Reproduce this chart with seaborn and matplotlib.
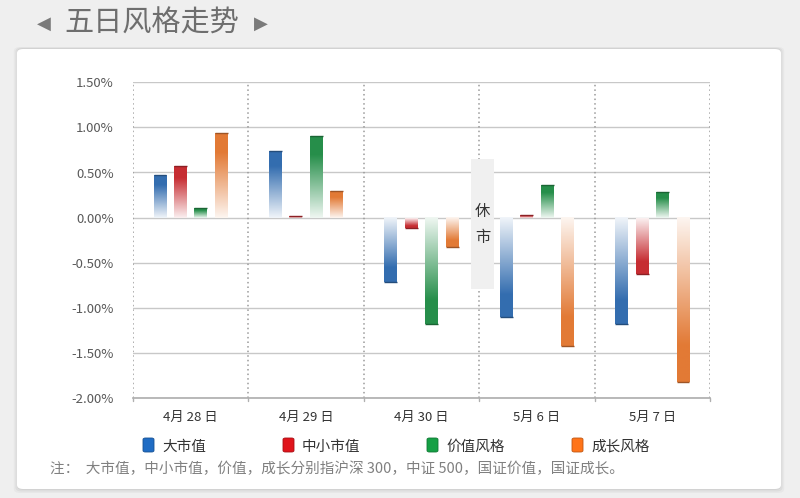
import numpy as np
import pandas as pd
import matplotlib
matplotlib.use("Agg")
import matplotlib.pyplot as plt
from matplotlib.patches import FancyBboxPatch, Rectangle
from matplotlib.colors import to_rgb
import seaborn as sns

dates = ["4月 28 日", "4月 29 日", "4月 30 日", "5月 6 日", "5月 7 日"]
styles = ["大市值", "中小市值", "价值风格", "成长风格"]
big_cap = [0.47, 0.74, -0.71, -1.10, -1.18]
small_cap = [0.57, 0.02, -0.11, 0.03, -0.62]
value_style = [0.11, 0.90, -1.18, 0.36, 0.28]
growth_style = [0.94, 0.29, -0.33, -1.42, -1.82]
colors = ["#1f6cc4", "#e0141b", "#15a045", "#ff7419"]
note = "注：  大市值，中小市值，价值，成长分别指沪深 300，中证 500，国证价值，国证成长。"

sns.set_theme(style="white")
plt.rcParams["font.family"] = ["Noto Sans CJK SC", "DejaVu Sans"]

df = pd.DataFrame({
    "date": dates * 4,
    "style": np.repeat(styles, len(dates)),
    "value": big_cap + small_cap + value_style + growth_style,
})

fig = plt.figure(figsize=(8, 4.98), dpi=100)
fig.patch.set_facecolor("#efefef")

# card with soft shadow
for i, a in enumerate([0.05, 0.04, 0.03]):
    fig.patches.append(FancyBboxPatch((17 / 800 - 0.002 * i, 8 / 498 - 0.003 * i),
                                      764 / 800 + 0.004 * i, 442 / 498 + 0.004 * i,
                                      boxstyle="round,pad=0,rounding_size=0.008",
                                      transform=fig.transFigure, facecolor="black",
                                      alpha=a, edgecolor="none", zorder=-3))
fig.patches.append(FancyBboxPatch((17 / 800, 9 / 498), 764 / 800, 440 / 498,
                                  boxstyle="round,pad=0,rounding_size=0.008",
                                  transform=fig.transFigure, facecolor="white",
                                  edgecolor="none", zorder=-2))

ax = fig.add_axes([133 / 800, 1 - 398 / 498, 577 / 800, 315.7 / 498])
ax.set_zorder(1)
ax.set_facecolor("none")
sns.barplot(data=df, x="date", y="value", hue="style", palette=colors,
            width=0.71, gap=0.37, legend=False, ax=ax, zorder=3)

# gradient fill on each bar: pale at zero, full colour at the tip
for patch in list(ax.patches):
    x0 = patch.get_x()
    w = patch.get_width()
    h = patch.get_height()
    if np.isnan(h) or w == 0:
        continue
    base = np.array(to_rgb(patch.get_facecolor()))
    t = np.linspace(0, 1, 200)
    s = np.clip(0.07 + 1.2 * t, 0, 1)
    if h < 0:
        s = s[::-1]
    img = (1 - s)[:, None] * np.ones(3) + s[:, None] * base
    img = img[:, None, :]
    lo, hi = min(0, h), max(0, h)
    ax.imshow(img, extent=[x0, x0 + w, lo, hi], origin="lower", aspect="auto",
              zorder=3, interpolation="bilinear")
    ax.plot([x0, x0 + w], [h, h], color=base * 0.7, lw=1.0, zorder=4,
            solid_capstyle="butt")
    patch.set_visible(False)

ax.set_xlim(-0.5, 4.5)
ax.set_ylim(-2.0, 1.5)

ax.set_yticks(np.arange(-2.0, 1.51, 0.5))
ax.set_yticklabels([f"{v:.2f}%" for v in np.arange(-2.0, 1.51, 0.5)],
                   fontsize=9.5, color="#595959")
ax.yaxis.grid(True, color="#c8c8c8", lw=1.0, zorder=1)
ax.set_axisbelow(True)
ax.set_xticks(range(len(dates)))
ax.set_xticklabels(dates, fontsize=9.5, color="#333333")
ax.tick_params(axis="x", length=0, pad=9)
ax.tick_params(axis="y", length=0, pad=14)
ax.set_xlabel("")
ax.set_ylabel("")
for side in ["top", "right", "left"]:
    ax.spines[side].set_visible(False)
ax.spines["bottom"].set_color("#b0b0b0")
ax.spines["bottom"].set_zorder(2)

for xs in np.arange(-0.5, 4.6, 1.0):
    ax.axvline(xs, color="#9a9a9a", lw=1.1, ls=(0, (1, 2)), zorder=2)
    ax.plot([xs, xs], [-2.0, -2.03], color="#b0b0b0", lw=1, clip_on=False)

# market closed box
ax.add_patch(Rectangle((2.43, -0.79), 0.2, 1.44, facecolor="#f0f0f0",
                       edgecolor="none", zorder=5))
ax.text(2.53, 0.07, "休", ha="center", va="center", fontsize=11, color="#333333", zorder=6)
ax.text(2.53, -0.22, "市", ha="center", va="center", fontsize=11, color="#333333", zorder=6)

# title
fig.text(37 / 800, 1 - 24 / 498, "◀", fontsize=13, color="#7a7a7a", va="center",
         family=["DejaVu Sans"])
fig.text(64 / 800, 1 - 24 / 498, "五日风格走势", fontsize=21, color="#6e6e6e", va="center")
fig.text(254 / 800, 1 - 24 / 498, "▶", fontsize=13, color="#7a7a7a", va="center",
         family=["DejaVu Sans"])

# legend
leg_x = [143, 283, 427, 572]
for lx, lab, c in zip(leg_x, styles, colors):
    fig.patches.append(FancyBboxPatch((lx / 800, 1 - 452 / 498), 11 / 800, 14 / 498,
                                      boxstyle="round,pad=0,rounding_size=0.003",
                                      transform=fig.transFigure, facecolor=c,
                                      edgecolor=np.array(to_rgb(c)) * 0.75, lw=0.6, zorder=2))
    fig.text((lx + 19) / 800, 1 - 445 / 498, lab, fontsize=10.5, color="#333333",
             va="center_baseline")

fig.text(50 / 800, 1 - 469 / 498, note, fontsize=10.5, color="#808080", va="center")

fig.savefig("out.png", dpi=100, facecolor=fig.get_facecolor())
